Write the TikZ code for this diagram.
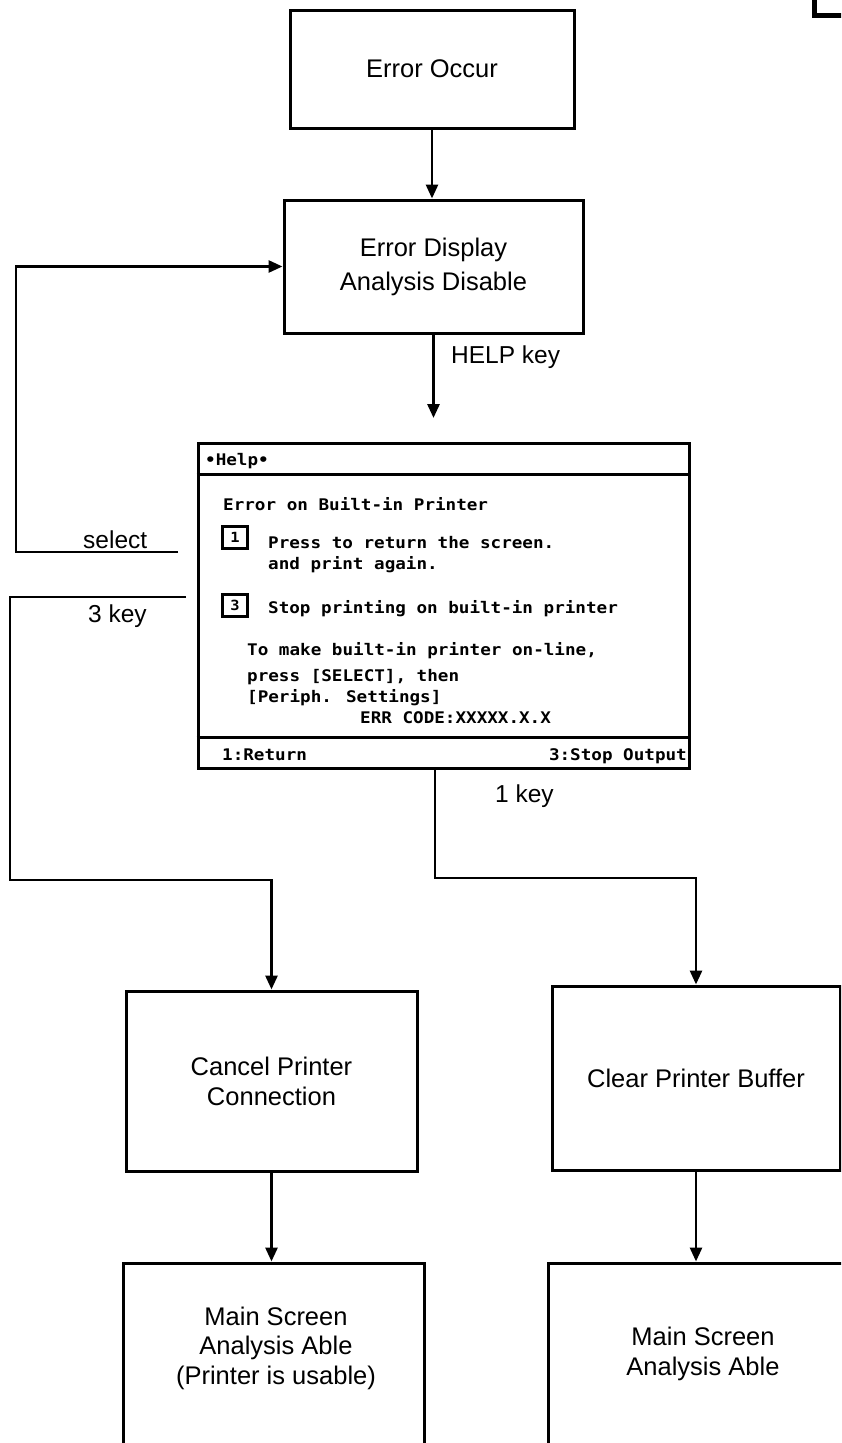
\documentclass[tikz,border=0pt]{standalone}
\usepackage{fontspec}
\setmainfont{Liberation Sans}
\newfontfamily\scrfont[FakeStretch=1.1]{DejaVu Sans Mono}
\usetikzlibrary{arrows.meta}
\begin{document}
\begin{tikzpicture}[x=1pt,y=-1pt,
  box/.style={draw, line width=3pt, inner sep=0pt, align=center, font=\fontsize{25.5}{30}\selectfont},
  txt/.style={inner sep=0pt, align=center, font=\fontsize{25.5}{29.5}\selectfont},
  lbl/.style={inner sep=0pt, anchor=base west, font=\fontsize{24.5}{29}\selectfont},
  scr/.style={inner sep=0pt, anchor=base west, font=\scrfont\bfseries\fontsize{16}{19}\selectfont},
  conn/.style={line width=2.8pt},
  arr/.style={conn, -{Triangle[length=14pt,width=12pt]}},
  keybox/.style={draw, line width=2.4pt, minimum width=25pt, minimum height=22pt, inner sep=0pt, font=\scrfont\bfseries\fontsize{14}{16}\selectfont}
]
\useasboundingbox (0,0) rectangle (841,1443);
\clip (0,0) rectangle (841,1443);

% corner mark
\draw[line width=5pt] (814,0) -- (814,15.5) -- (845,15.5);

% top boxes
\node[box, minimum width=284pt, minimum height=118pt] (occ) at (432,69) {Error Occur};
\node[box, minimum width=299pt, minimum height=133pt] (ed) at (433.5,266.5) {Error Display\\[4pt]Analysis Disable};

% help screen
\node[draw, line width=3pt, minimum width=491pt, minimum height=325pt, inner sep=0pt] (help) at (443.5,605.5) {};
\coordinate (tline) at (0,474);
\coordinate (fline) at (0,737);
\draw[line width=3pt] (help.west |- tline) -- (help.east |- tline);
\draw[line width=3pt] (help.west |- fline) -- (help.east |- fline);
\node[scr] (htitle) at (205,465) {•Help•};
\node[scr] (h1) at (223,510) {Error on Built-in Printer};
\node[keybox] (kb1) at (235,537.5) {1};
\node[scr] (h2) at (268,548) {Press to return the screen.};
\node[scr] (h3) at (268,569) {and print again.};
\node[keybox] (kb3) at (235,605.5) {3};
\node[scr] (h4) at (268,613) {Stop printing on built-in printer};
\node[scr] (h5) at (247,655) {To make built-in printer on-line,};
\node[scr] (h6) at (247,681) {press [SELECT], then};
\node[scr] (h7) at (247,702) {[Periph. Settings]};
\node[scr] (h8) at (360,723) {ERR CODE:XXXXX.X.X};
\node[scr] (f1) at (222,760) {1:Return};
\node[scr, anchor=base east] (f3) at (687,760) {3:Stop Output};

% middle boxes
\node[box, minimum width=291pt, minimum height=180pt] (cancel) at (271.5,1081) {Cancel Printer\\Connection};
\node[box, minimum width=288pt, minimum height=184pt] (clear) at (696,1078) {Clear Printer Buffer};

% bottom boxes (open at the page bottom)
\node[box, minimum width=301pt, minimum height=210pt] (m1) at (273.5,1368) {};
\node[txt] (m1t) at (276,1348) {Main Screen\\Analysis Able\\(Printer is usable)};
\node[box, minimum width=300pt, minimum height=210pt] (m2) at (698,1368) {};
\node[txt] (m2t) at (703,1354) {Main Screen\\Analysis Able};

% connectors
\draw[arr] (occ.south) -- (occ.south |- ed.north);
\coordinate (helptip) at (433.5,418);
\draw[arr] (ed.south) -- (helptip);
\node[lbl] (helpkey) at (451,363) {HELP key};

\coordinate (selR) at (178,552);
\coordinate (selL) at (16,552);
\draw[arr] (selR) -- (selL) |- (ed.west);
\node[lbl] (sel) at (83,548) {select};

\coordinate (k3R) at (186,597);
\coordinate (k3L) at (10,597);
\coordinate (k3B) at (10,880);
\draw[arr] (k3R) -- (k3L) -- (k3B) -| (cancel.north);
\node[lbl] (k3lbl) at (88,622) {3 key};

\coordinate (k1B) at (435,878);
\draw[arr] (help.south -| k1B) -- (k1B) -| (clear.north);
\node[lbl] (k1lbl) at (495,802) {1 key};

\draw[arr] (cancel.south) -- (cancel.south |- m1.north);
\draw[arr] (clear.south) -- (clear.south |- m2.north);
\end{tikzpicture}
\end{document}
